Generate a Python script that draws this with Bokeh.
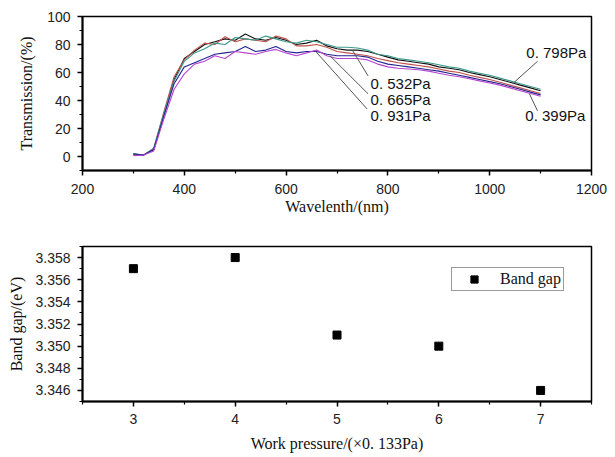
from bokeh.plotting import figure
from bokeh.layouts import column
from bokeh.models import Range1d, Legend, LegendItem, NumeralTickFormatter, FixedTicker, ColumnDataSource
from bokeh.core.properties import value
from bokeh.embed import file_html
from bokeh.resources import INLINE

# ---------------- data ----------------
wavelength = list(range(300, 1101, 20))

t_0532 = [1.5, 1, 5, 30, 55, 70, 75, 80, 82, 84, 83, 87.5, 84, 83, 85, 83, 80, 81, 83, 79, 77,
          76, 76, 75, 73, 71, 69, 68, 67, 66, 64, 63, 62, 60, 58.5, 57, 55, 53, 51, 49, 47]
t_0665 = [1, 1, 6, 32, 57, 69, 76, 81, 80, 85.5, 82, 84, 83, 82, 86, 84, 79, 79, 80, 78, 75,
          74, 73, 72, 70, 68.5, 67, 66, 65, 64, 62.5, 61, 60, 58, 56.5, 55, 53, 51, 49, 47, 45]
t_0798 = [2, 1, 6, 31, 54, 68, 74, 77, 81, 80, 85, 84, 83, 86, 84, 82, 81, 83, 82, 80, 78,
          78, 77.5, 76, 73, 72, 70, 69, 68, 67, 65.5, 64, 63, 61, 59.5, 58, 56, 54, 52, 50, 48]
t_0931 = [2, 1, 5, 29, 52, 64, 67, 70, 73, 74, 75, 78.5, 75, 76, 78.5, 75, 74, 75, 75, 73, 72,
          72, 72, 71, 68, 66, 65, 64, 63, 62, 61, 59.5, 58, 56.5, 55, 53.5, 52, 50, 48, 46, 44]
t_0399 = [0.5, 1, 4, 27, 48, 59, 66, 68, 72, 70, 75, 74, 73, 75, 76.5, 74, 72, 74, 76, 72, 70,
          70, 70, 69, 66, 64, 63, 62.5, 62, 61, 59.5, 58, 57, 55.5, 54, 52.5, 51, 49, 47, 45, 43]

series_names = ["0.532Pa", "0.665Pa", "0.798Pa", "0.931Pa", "0.399Pa"]
series_vals = [t_0532, t_0665, t_0798, t_0931, t_0399]
series_colors = ["#111111", "#c0504a", "#3a9a8c", "#22238f", "#b545d0"]

# annotation labels (text, label x, label y, leader start x, y, leader end x, y)
ann_text = ["0. 532Pa", "0. 665Pa", "0. 931Pa", "0. 798Pa", "0. 399Pa"]
ann_x = [766, 766, 766, 1072, 1070]
ann_y = [52.5, 40.5, 29, 74, 29]
lead_x0 = [731, 686, 657, 1045, 1078]
lead_y0 = [75.5, 72, 75.5, 52, 44.8]
lead_x1 = [761, 761, 759, 1094, 1094]
lead_y1 = [57.6, 44.8, 34, 68, 32.6]

pressure = [3, 4, 5, 6, 7]
band_gap = [3.357, 3.358, 3.351, 3.350, 3.346]

SERIF = "Liberation Serif"
SANS = "Liberation Sans"


def style(p):
    p.toolbar.logo = None
    p.xgrid.grid_line_color = None
    p.ygrid.grid_line_color = None
    p.outline_line_color = "black"
    p.outline_line_width = 1.5
    p.background_fill_color = "white"
    p.border_fill_color = "white"
    for ax in (p.xaxis[0], p.yaxis[0]):
        ax.axis_line_width = 2
        ax.axis_line_color = "black"
        ax.major_tick_line_width = 1.5
        ax.minor_tick_line_width = 1.2
        ax.major_tick_out = 5
        ax.major_tick_in = 0
        ax.minor_tick_out = 3
        ax.minor_tick_in = 0
        ax.major_label_text_font = SANS
        ax.major_label_text_font_size = "14px"
        ax.major_label_text_color = "#222222"
        ax.axis_label_text_font = SERIF
        ax.axis_label_text_font_size = "16px"
        ax.axis_label_text_font_style = "normal"
        ax.axis_label_text_color = "#111111"


# ---------------- top figure ----------------
p1 = figure(width=615, height=230, output_backend="svg", toolbar_location=None,
            x_range=Range1d(200, 1200), y_range=Range1d(-10, 100),
            min_border_left=82, min_border_right=24, min_border_top=16, min_border_bottom=60)
style(p1)
p1.xaxis.ticker = FixedTicker(ticks=[200, 400, 600, 800, 1000, 1200],
                              minor_ticks=[300, 500, 700, 900, 1100])
p1.yaxis.ticker = FixedTicker(ticks=[0, 20, 40, 60, 80, 100],
                              minor_ticks=[-10, 10, 30, 50, 70, 90])
p1.xaxis.axis_label = "Wavelenth/(nm)"
p1.yaxis.axis_label = "Transmission/(%)"
p1.xaxis.major_label_standoff = 8
p1.xaxis.axis_label_standoff = 1
p1.yaxis.major_label_standoff = 7
p1.yaxis.axis_label_standoff = 9

for name, vals, col in zip(series_names, series_vals, series_colors):
    p1.line(wavelength, vals, line_color=col, line_width=1.1, name=name)

lead_src = ColumnDataSource(dict(x0=lead_x0, y0=lead_y0, x1=lead_x1, y1=lead_y1))
p1.segment(x0="x0", y0="y0", x1="x1", y1="y1", source=lead_src, line_color="#555555", line_width=1)
ann_src = ColumnDataSource(dict(x=ann_x, y=ann_y, t=ann_text))
p1.text(x="x", y="y", text="t", source=ann_src, text_font=value(SANS), text_font_size="15px",
        text_align="left", text_baseline="middle", text_color="#111111")

# ---------------- bottom figure ----------------
p2 = figure(width=615, height=226, output_backend="svg", toolbar_location=None,
            x_range=Range1d(2.5, 7.5), y_range=Range1d(3.345, 3.359),
            min_border_left=82, min_border_right=24, min_border_top=16, min_border_bottom=55)
style(p2)
p2.xaxis.ticker = FixedTicker(ticks=[3, 4, 5, 6, 7], minor_ticks=[2.5, 3.5, 4.5, 5.5, 6.5, 7.5])
p2.yaxis.ticker = FixedTicker(ticks=[3.346, 3.348, 3.350, 3.352, 3.354, 3.356, 3.358],
                              minor_ticks=[3.345, 3.347, 3.349, 3.351, 3.353, 3.355, 3.357, 3.359])
p2.yaxis.formatter = NumeralTickFormatter(format="0.000")
p2.xaxis.axis_label = "Work pressure/(\u00d70. 133Pa)"
p2.yaxis.axis_label = "Band gap/(eV)"
p2.xaxis.major_label_standoff = 7
p2.xaxis.axis_label_standoff = 8
p2.yaxis.major_label_standoff = 7
p2.yaxis.axis_label_standoff = 7

r = p2.scatter(pressure, band_gap, marker="square", size=8, fill_color="black", line_color="black")
leg = Legend(items=[LegendItem(label="Band gap", renderers=[r])], location=(369, 110),
             margin=0, padding=2, spacing=0, glyph_width=40, glyph_height=18, label_height=18,
             label_standoff=6, border_line_color="#333333", border_line_width=1,
             label_text_font=SERIF, label_text_font_size="16px", label_text_color="#111111",
             background_fill_alpha=1)
p2.add_layout(leg)

layout = column(p1, p2, spacing=0)
open("out.html", "w").write(file_html(layout, INLINE))
